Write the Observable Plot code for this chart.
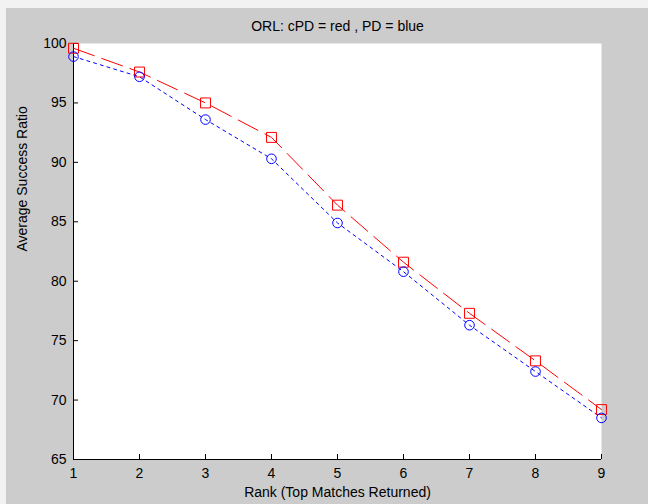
<!DOCTYPE html>
<html><head><meta charset="utf-8">
<script src="https://cdn.jsdelivr.net/npm/d3@7"></script>
<script src="https://cdn.jsdelivr.net/npm/@observablehq/plot@0.6"></script>
<style>
html,body{margin:0;padding:0;background:#f2f2f2;width:648px;height:504px;overflow:hidden;}
#chart{position:absolute;left:6px;top:8px;}
</style></head><body><div id="chart"></div>
<script>
const ranks = [1, 2, 3, 4, 5, 6, 7, 8, 9];
const cPD = [99.6, 97.6, 95.0, 92.1, 86.4, 81.6, 77.3, 73.3, 69.2];
const PD = [98.9, 97.2, 93.6, 90.3, 84.9, 80.8, 76.3, 72.4, 68.5];
const yTicks = [65, 70, 75, 80, 85, 90, 95, 100];
const title = "ORL: cPD = red , PD = blue";
const xLabel = "Rank (Top Matches Returned)";
const yLabel = "Average Success Ratio";

const redData = ranks.map((r, i) => ({rank: r, value: cPD[i]}));
const blueData = ranks.map((r, i) => ({rank: r, value: PD[i]}));

const plot = Plot.plot({
  width: 642, height: 496,
  marginLeft: 67, marginRight: 47, marginTop: 35, marginBottom: 45,
  style: {background: "#cccccc", fontFamily: "'Liberation Sans', Arial, sans-serif", fontSize: "14px", color: "#000"},
  x: {domain: [1, 9]},
  y: {domain: [65, 100]},
  marks: [
    Plot.frame({fill: "white", stroke: "none"}),
    Plot.axisX({ticks: ranks, tickSize: -5, tickPadding: 14, tickFormat: d => d, label: null}),
    Plot.axisY({ticks: yTicks, tickSize: -5, tickPadding: 12, tickFormat: d => d, label: null}),
    Plot.ruleX([1]),
    Plot.ruleY([65]),
    Plot.line(redData, {x: "rank", y: "value", stroke: "#ff0000", strokeWidth: 1, strokeDasharray: "22,8"}),
    Plot.line(blueData, {x: "rank", y: "value", stroke: "#0000ff", strokeWidth: 1, strokeDasharray: "3,4"}),
    Plot.dot(redData, {x: "rank", y: "value", symbol: "square", r: 5.6, stroke: "#ff0000", fill: "none", strokeWidth: 1}),
    Plot.dot(blueData, {x: "rank", y: "value", symbol: "circle", r: 4.8, stroke: "#0000ff", fill: "none", strokeWidth: 1}),
    Plot.text([title], {text: d => d, frameAnchor: "top", lineAnchor: "middle", dy: -17, fontSize: 14}),
    Plot.text([xLabel], {text: d => d, frameAnchor: "bottom", lineAnchor: "middle", dy: 33, fontSize: 14}),
    Plot.text([yLabel], {text: d => d, frameAnchor: "left", lineAnchor: "middle", rotate: -90, dx: -51, fontSize: 14})
  ]
});
document.getElementById("chart").appendChild(plot);
</script></body></html>
